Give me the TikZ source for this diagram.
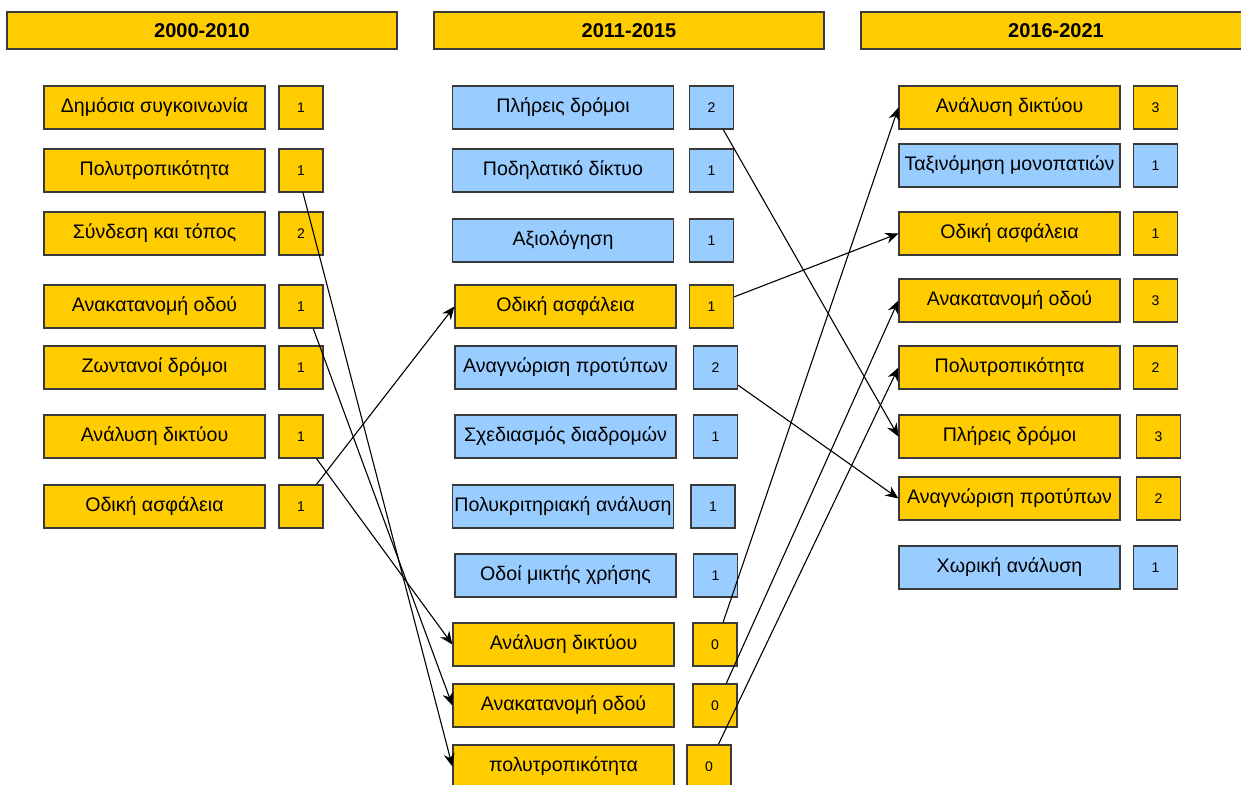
\documentclass[tikz,border=0pt]{standalone}
\usepackage{fontspec}
\setmainfont{Liberation Sans}
\usetikzlibrary{arrows.meta}
\definecolor{ylw}{HTML}{FFCC00}
\definecolor{blu}{HTML}{99CCFF}
\definecolor{edge}{HTML}{3A3A3A}
\tikzset{
  box/.style={draw=edge,line width=0.6pt,inner sep=0pt,minimum height=21.5pt},
  hdr/.style={box,fill=ylw,minimum width=195pt,minimum height=18.5pt,font=\fontsize{10}{12}\selectfont\bfseries},
  topic/.style={box,fill=ylw,minimum width=110.5pt,font=\fontsize{9.8}{12}\selectfont},
  topicb/.style={topic,fill=blu},
  cnt/.style={box,fill=ylw,minimum width=22pt,font=\fontsize{7}{8}\selectfont},
  cntb/.style={cnt,fill=blu},
  link/.style={line width=0.55pt,-{Stealth[length=6.5pt,width=5.5pt]}}
}
\begin{document}
\begin{tikzpicture}[x=0.5pt,y=-0.5pt]
\useasboundingbox (0,0) rectangle (1241,785);
% headers
\node[hdr] (h1) at (202,30.5) {2000-2010};
\node[hdr] (h2) at (629,30.5) {2011-2015};
\node[hdr] (h3) at (1056,30.5) {2016-2021};
% 2000-2010
\node[topic] (a1) at (154.5,107.5) {Δημόσια συγκοινωνία};
\node[cnt] (a1n) at (301,107.5) {1};
\node[topic] (a2) at (154.5,170.5) {Πολυτροπικότητα};
\node[cnt] (a2n) at (301,170.5) {1};
\node[topic] (a3) at (154.5,233.5) {Σύνδεση και τόπος};
\node[cnt] (a3n) at (301,233.5) {2};
\node[topic] (a4) at (154.5,306.5) {Ανακατανομή οδού};
\node[cnt] (a4n) at (301,306.5) {1};
\node[topic] (a5) at (154.5,367.5) {Ζωντανοί δρόμοι};
\node[cnt] (a5n) at (301,367.5) {1};
\node[topic] (a6) at (154.5,436.5) {Ανάλυση δικτύου};
\node[cnt] (a6n) at (301,436.5) {1};
\node[topic] (a7) at (154.5,506.5) {Οδική ασφάλεια};
\node[cnt] (a7n) at (301,506.5) {1};
% 2011-2015
\node[topicb] (b1) at (563,107.5) {Πλήρεις δρόμοι};
\node[cntb] (b1n) at (711.5,107.5) {2};
\node[topicb] (b2) at (563,170.5) {Ποδηλατικό δίκτυο};
\node[cntb] (b2n) at (711.5,170.5) {1};
\node[topicb] (b3) at (563,240.5) {Αξιολόγηση};
\node[cntb] (b3n) at (711.5,240.5) {1};
\node[topic] (b4) at (565.5,306.5) {Οδική ασφάλεια};
\node[cnt] (b4n) at (711.5,306.5) {1};
\node[topicb] (b5) at (565.5,367.5) {Αναγνώριση προτύπων};
\node[cntb] (b5n) at (715.5,367.5) {2};
\node[topicb] (b6) at (565.5,436.5) {Σχεδιασμός διαδρομών};
\node[cntb] (b6n) at (715.5,436.5) {1};
\node[topicb] (b7) at (563,506.5) {Πολυκριτηριακή ανάλυση};
\node[cntb] (b7n) at (713,506.5) {1};
\node[topicb] (b8) at (565.5,575.5) {Οδοί μικτής χρήσης};
\node[cntb] (b8n) at (715.5,575.5) {1};
\node[topic] (b9) at (563.5,644.5) {Ανάλυση δικτύου};
\node[cnt] (b9n) at (715,644.5) {0};
\node[topic] (b10) at (563.5,705.5) {Ανακατανομή οδού};
\node[cnt] (b10n) at (715,705.5) {0};
\node[topic] (b11) at (563.5,766.5) {πολυτροπικότητα};
\node[cnt] (b11n) at (709,766.5) {0};
% 2016-2021
\node[topic] (c1) at (1009.5,107.5) {Ανάλυση δικτύου};
\node[cnt] (c1n) at (1155.5,107.5) {3};
\node[topicb] (c2) at (1009.5,165.5) {Ταξινόμηση μονοπατιών};
\node[cntb] (c2n) at (1155.5,165.5) {1};
\node[topic] (c3) at (1009.5,233.5) {Οδική ασφάλεια};
\node[cnt] (c3n) at (1155.5,233.5) {1};
\node[topic] (c4) at (1009.5,300.5) {Ανακατανομή οδού};
\node[cnt] (c4n) at (1155.5,300.5) {3};
\node[topic] (c5) at (1009.5,367.5) {Πολυτροπικότητα};
\node[cnt] (c5n) at (1155.5,367.5) {2};
\node[topic] (c6) at (1009.5,436.5) {Πλήρεις δρόμοι};
\node[cnt] (c6n) at (1158.5,436.5) {3};
\node[topic] (c7) at (1009.5,498.5) {Αναγνώριση προτύπων};
\node[cnt] (c7n) at (1158.5,498.5) {2};
\node[topicb] (c8) at (1009.5,567.5) {Χωρική ανάλυση};
\node[cntb] (c8n) at (1155.5,567.5) {1};
% links
\draw[link] (a2n.-85) -- (b11.west);
\draw[link] (a4n.-61) -- (b10.west);
\draw[link] (a6n.-55) -- (b9.west);
\draw[link] (a7n.55) -- (b4.west);
\draw[link] (b4n.23) -- (c3.west);
\draw[link] (b1n.-62) -- (c6.west);
\draw[link] (b5n.-38) -- (c7.west);
\draw[link] (b9n.70) -- (c1.west);
\draw[link] (b10n.63) -- (c4.west);
\draw[link] (b11n.67) -- (c5.west);
\end{tikzpicture}
\end{document}
